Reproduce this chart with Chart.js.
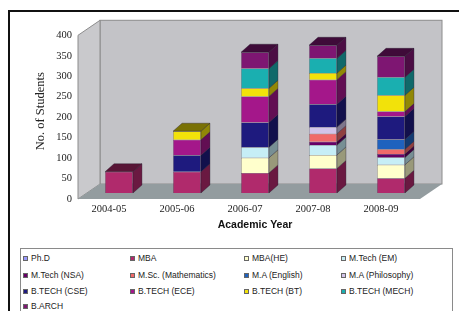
<!DOCTYPE html>
<html>
<head>
<meta charset="utf-8">
<script src="https://cdn.jsdelivr.net/npm/chart.js@4.4.1/dist/chart.umd.min.js"></script>
<style>
  html, body { margin: 0; padding: 0; background: #fff; }
  #page { position: relative; width: 459px; height: 311px; overflow: hidden; }
  #frame { position: absolute; left: 8px; top: 10px; width: 470px; height: 320px; border: 2px solid #111; box-sizing: border-box; }
  #wrap { position: absolute; left: 8px; top: 10px; width: 451px; height: 236px; }
  #legend { position: absolute; left: 20px; top: 248px; width: 433px; height: 80px; border: 1px solid #8a8a8a; box-sizing: border-box;
            font: 8.5px "Liberation Sans", Arial, sans-serif; color: #222; }
  .item { position: absolute; white-space: nowrap; line-height: 10px; }
  .sw { display: inline-block; width: 5px; height: 5px; margin-right: 3px; vertical-align: 0px; border: 1px solid #666; box-sizing: border-box; }
</style>
</head>
<body>
<div id="page">
  <div id="frame"></div>
  <div id="wrap"><canvas id="myChart"></canvas></div>
  <div id="legend"></div>
</div>
<script>
const years = ['2004-05', '2005-06', '2006-07', '2007-08', '2008-09'];
const yTicks = [0, 50, 100, 150, 200, 250, 300, 350, 400];

const courses = ['Ph.D', 'MBA', 'MBA(HE)', 'M.Tech (EM)', 'M.Tech (NSA)', 'M.Sc. (Mathematics)', 'M.A (English)',
                 'M.A (Philosophy)', 'B.TECH (CSE)', 'B.TECH (ECE)', 'B.TECH (BT)', 'B.TECH (MECH)', 'B.ARCH'];
const colors = ['#9999ff', '#b02a6c', '#ffffcc', '#c6eef6', '#660066', '#f06a6a', '#1f62be',
                '#d2c4ea', '#1e1a7e', '#a4178a', '#f2e20a', '#1aafb0', '#7e1672'];

// students per course, one value per academic year
const phd      = [0, 0, 0, 0, 0];
const mba      = [52, 52, 49, 60, 36];
const mbaHe    = [0, 0, 37, 33, 33];
const mtechEm  = [0, 0, 26, 24, 18];
const mtechNsa = [0, 0, 0, 8, 8];
const msc      = [0, 0, 0, 20, 12];
const maEng    = [0, 0, 0, 0, 24];
const maPhil   = [0, 0, 0, 16, 0];
const cse      = [0, 40, 60, 56, 56];
const ece      = [0, 38, 64, 60, 12];
const bt       = [0, 21, 20, 16, 40];
const mech     = [0, 0, 48, 36, 44];
const barch    = [0, 0, 40, 32, 51];

const series = [phd, mba, mbaHe, mtechEm, mtechNsa, msc, maEng, maPhil, cse, ece, bt, mech, barch];

function shade(hex, f) {
  const n = parseInt(hex.slice(1), 16);
  const r = Math.round(((n >> 16) & 255) * f), g = Math.round(((n >> 8) & 255) * f), b = Math.round((n & 255) * f);
  return `rgb(${r},${g},${b})`;
}

// grey walls and floor behind the bars
const walls = {
  id: 'walls',
  beforeDatasetsDraw(chart) {
    const { ctx, chartArea: a, scales: { y } } = chart;
    const L = a.left - 7, R = a.right - 5;
    const B = y.getPixelForValue(0) + 6, T = y.getPixelForValue(400) + 6;
    const dx = 22, dy = -15;
    ctx.save();
    ctx.strokeStyle = '#8c8c8c';
    ctx.lineWidth = 1;
    // back wall
    ctx.fillStyle = '#c3c3c7';
    ctx.fillRect(L + dx, T + dy, R - L, B - T);
    ctx.strokeRect(L + dx, T + dy, R - L, B - T);
    // left wall
    ctx.fillStyle = '#c9c9cc';
    ctx.beginPath();
    ctx.moveTo(L, B); ctx.lineTo(L, T); ctx.lineTo(L + dx, T + dy); ctx.lineTo(L + dx, B + dy); ctx.closePath();
    ctx.fill(); ctx.stroke();
    // floor
    ctx.fillStyle = '#939c9f';
    ctx.beginPath();
    ctx.moveTo(L, B); ctx.lineTo(R, B); ctx.lineTo(R + dx, B + dy); ctx.lineTo(L + dx, B + dy); ctx.closePath();
    ctx.fill();
    ctx.restore();
  }
};

// side and top faces for the columns
const depth = {
  id: 'depth',
  afterDatasetsDraw(chart) {
    const ctx = chart.ctx, dx = 9, dy = -8;
    const tops = {};
    ctx.save();
    ctx.lineWidth = 0.5;
    ctx.strokeStyle = 'rgba(30,20,40,0.7)';
    chart.data.datasets.forEach((ds, di) => {
      chart.getDatasetMeta(di).data.forEach((bar, i) => {
        if (Math.abs(bar.base - bar.y) < 0.5) return;
        const r = bar.x + bar.width / 2;
        ctx.fillStyle = shade(ds.backgroundColor, 0.6);
        ctx.beginPath();
        ctx.moveTo(r, bar.y); ctx.lineTo(r + dx, bar.y + dy); ctx.lineTo(r + dx, bar.base + dy); ctx.lineTo(r, bar.base);
        ctx.closePath(); ctx.fill(); ctx.stroke();
        tops[i] = { bar, color: ds.backgroundColor };
      });
    });
    Object.values(tops).forEach(({ bar, color }) => {
      const l = bar.x - bar.width / 2, r = bar.x + bar.width / 2;
      ctx.fillStyle = shade(color, 0.5);
      ctx.beginPath();
      ctx.moveTo(l, bar.y); ctx.lineTo(r, bar.y); ctx.lineTo(r + dx, bar.y + dy); ctx.lineTo(l + dx, bar.y + dy);
      ctx.closePath(); ctx.fill(); ctx.stroke();
    });
    ctx.restore();
  }
};

const data = {
  labels: years,
  datasets: courses.map((c, i) => ({
    label: c,
    data: series[i],
    backgroundColor: colors[i],
    borderColor: 'rgba(30,20,40,0.7)',
    borderWidth: 0.5,
    barPercentage: 0.41,
    categoryPercentage: 1
  }))
};

const tickFont = { family: '"Liberation Serif", "Times New Roman", serif', size: 10.5 };

new Chart(document.getElementById('myChart'), {
  type: 'bar',
  data: data,
  options: {
    responsive: true,
    maintainAspectRatio: false,
    animation: false,
    layout: { padding: { left: 21, right: 34, top: 16, bottom: 12 } },
    plugins: { legend: { display: false }, tooltip: { enabled: false } },
    scales: {
      x: {
        stacked: true,
        grid: { display: false, drawTicks: false },
        border: { display: false },
        ticks: { font: tickFont, color: '#222', padding: 10, labelOffset: -10, maxRotation: 0 },
        title: { display: true, text: 'Academic Year', color: '#111',
                 font: { family: '"Liberation Sans", Arial, sans-serif', size: 10.5, weight: 'bold' }, padding: { top: 2, bottom: 3 } },
        afterFit: s => { s.height = 41; }
      },
      y: {
        stacked: true,
        min: 0,
        max: 400,
        grid: { display: false, drawTicks: false },
        border: { display: false },
        afterBuildTicks: s => { s.ticks = yTicks.map(v => ({ value: v })); },
        ticks: { font: tickFont, color: '#222', padding: 13, labelOffset: 6 },
        title: { display: true, text: 'No. of Students', color: '#222',
                 font: { family: '"Liberation Serif", "Times New Roman", serif', size: 12.5 }, padding: { top: 4, bottom: 2 } },
        afterFit: s => { s.width = 56; }
      }
    }
  },
  plugins: [walls, depth]
});

// legend in four columns
const colX = [2, 109, 223, 320];
const rowY = [4, 21, 37, 52];
const legend = document.getElementById('legend');
courses.forEach((c, i) => {
  const el = document.createElement('div');
  el.className = 'item';
  el.style.left = colX[i % 4] + 'px';
  el.style.top = rowY[Math.floor(i / 4)] + 'px';
  el.innerHTML = `<span class="sw" style="background:${colors[i]}"></span>${c}`;
  legend.appendChild(el);
});
</script>
</body>
</html>
